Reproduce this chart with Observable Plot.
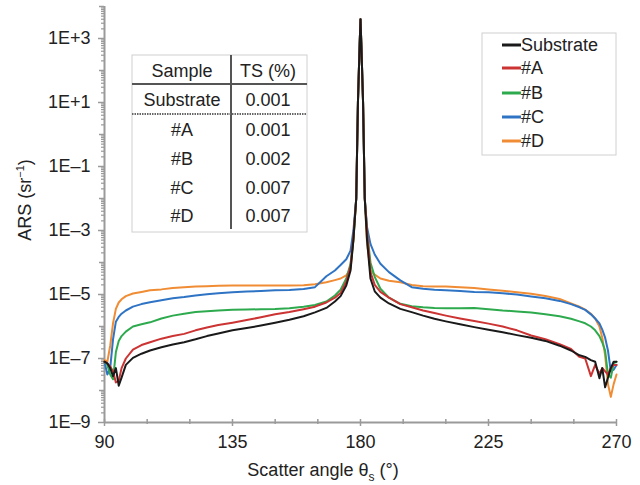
<!DOCTYPE html>
<html>
<head>
<meta charset="utf-8">
<script src="https://cdn.jsdelivr.net/npm/d3@7"></script>
<script src="https://cdn.jsdelivr.net/npm/@observablehq/plot@0.6"></script>
<style>
  html, body { margin: 0; padding: 0; background: #fff; }
  svg { display: block; }
</style>
</head>
<body>
<div id="chart"></div>
<script>
// Scatter angle grid (degrees)
const angles = [90, 91, 92, 93, 94, 95, 96, 97.5, 100, 103, 106, 110, 114, 118, 122, 126, 130, 135, 140, 145, 150, 155, 160, 164, 168, 171, 173, 175, 176.5, 177.5, 178.5, 179.1, 179.7, 180, 180.3, 180.9, 181.5, 182.3, 183.5, 185, 187, 190, 194, 198, 202, 206, 210, 215, 220, 225, 230, 235, 240, 245, 250, 254, 257, 259, 261, 262.5, 264, 265, 266, 267, 268, 269, 270];

// log10 of ARS (sr^-1), one per angle
const logSubstrate = [-7.1, -7.15, -7.3, -7.55, -7.3, -7.85, -7.6, -7.2, -6.98, -6.85, -6.75, -6.65, -6.56, -6.49, -6.4, -6.3, -6.22, -6.12, -6.05, -5.97, -5.88, -5.79, -5.68, -5.56, -5.42, -5.22, -5.05, -4.72, -4.25, -3.3, -2.0, 1.0, 2.8, 3.6, 2.8, 1.0, -2.0, -3.3, -4.5, -4.9, -5.1, -5.28, -5.45, -5.55, -5.66, -5.76, -5.84, -5.93, -6.02, -6.1, -6.18, -6.27, -6.35, -6.45, -6.6, -6.75, -6.9, -6.95, -7.05, -7.1, -7.62, -7.3, -7.9, -7.6, -7.3, -7.1, -7.1];
const logA = [-7.1, -7.15, -7.25, -7.4, -7.75, -7.7, -7.3, -7.0, -6.72, -6.58, -6.49, -6.38, -6.3, -6.23, -6.12, -6.03, -5.95, -5.88, -5.8, -5.71, -5.62, -5.55, -5.46, -5.38, -5.25, -5.1, -4.95, -4.6, -4.1, -3.2, -2.0, 1.0, 2.8, 3.6, 2.8, 1.0, -2.0, -3.0, -4.3, -4.7, -4.92, -5.1, -5.3, -5.4, -5.5, -5.58, -5.66, -5.75, -5.83, -5.91, -6.0, -6.12, -6.28, -6.4, -6.55, -6.7, -6.95, -7.0, -7.55, -7.2, -7.48, -7.3, -7.4, -7.5, -7.3, -7.2, -7.2];
const logB = [-7.1, -7.2, -7.5, -7.65, -6.8, -6.45, -6.3, -6.16, -6.0, -5.93, -5.87, -5.75, -5.66, -5.6, -5.55, -5.52, -5.5, -5.48, -5.47, -5.46, -5.45, -5.43, -5.38, -5.33, -5.22, -5.03, -4.85, -4.5, -4.04, -3.3, -2.0, 1.0, 2.8, 3.6, 2.8, 1.0, -2.0, -3.0, -4.0, -4.45, -4.82, -5.1, -5.29, -5.37, -5.4, -5.42, -5.43, -5.43, -5.42, -5.46, -5.5, -5.53, -5.56, -5.62, -5.68, -5.76, -5.84, -5.9, -6.0, -6.12, -6.3, -6.5, -6.75, -7.5, -7.6, -7.15, -7.1];
const logC = [-7.1, -7.5, -7.3, -6.4, -5.85, -5.7, -5.6, -5.5, -5.38, -5.3, -5.24, -5.18, -5.12, -5.08, -5.03, -4.99, -4.96, -4.93, -4.91, -4.89, -4.87, -4.86, -4.83, -4.77, -4.43, -4.25, -4.08, -3.9, -3.63, -3.0, -2.0, 1.0, 2.8, 3.6, 2.8, 1.0, -2.0, -2.9, -3.42, -3.75, -4.04, -4.3, -4.56, -4.77, -4.82, -4.85, -4.87, -4.89, -4.92, -4.93, -4.96, -5.0, -5.06, -5.12, -5.2, -5.3, -5.4, -5.48, -5.62, -5.75, -5.9, -6.1, -6.35, -6.75, -7.4, -7.35, -7.2];
const logD = [-7.05, -7.1, -6.6, -5.9, -5.45, -5.25, -5.15, -5.05, -4.97, -4.92, -4.87, -4.84, -4.8, -4.77, -4.75, -4.74, -4.73, -4.72, -4.72, -4.72, -4.72, -4.72, -4.71, -4.68, -4.62, -4.55, -4.5, -4.4, -4.2, -3.3, -2.0, 1.0, 2.8, 3.6, 2.8, 1.0, -2.0, -3.4, -4.25, -4.38, -4.5, -4.57, -4.62, -4.7, -4.74, -4.75, -4.75, -4.77, -4.8, -4.84, -4.88, -4.93, -4.98, -5.05, -5.14, -5.28, -5.38, -5.47, -5.6, -5.75, -6.0, -6.35, -6.9, -7.8, -8.2, -7.8, -7.5];

const seriesNames = ["Substrate", "#A", "#B", "#C", "#D"];
const seriesColors = ["#1a1a1a", "#cc3333", "#2eaa4e", "#2f74c4", "#f08c34"];
const seriesLogs = [logSubstrate, logA, logB, logC, logD];

// Inset table
const tableHeader = ["Sample", "TS (%)"];
const tableSamples = ["Substrate", "#A", "#B", "#C", "#D"];
const tableTS = ["0.001", "0.001", "0.002", "0.007", "0.007"];

// Axis ticks
const xMajorTicks = [90, 135, 180, 225, 270];
const xMinorTicks = [105, 120, 150, 165, 195, 210, 240, 255];
const yLabelExps = [3, 1, -1, -3, -5, -7, -9];
const yEvenExps = [4, 2, 0, -2, -4, -6, -8];

const yLabelTicks = yLabelExps.map(e => Math.pow(10, e));
const yEvenTicks = yEvenExps.map(e => Math.pow(10, e));
const yMinorTicks = [];
for (let e = -9; e < 4; e++) for (let m = 2; m <= 9; m++) yMinorTicks.push(m * Math.pow(10, e));

const expOf = v => Math.round(Math.log10(v));
const fmtY = v => { const e = expOf(v); return "1E" + (e >= 0 ? "+" : "\u2013") + Math.abs(e); };

const seriesData = seriesNames.map((name, k) =>
  angles.map((a, i) => ({ series: name, angle: a, ars: Math.pow(10, seriesLogs[k][i]) })));

const axisColor = "#9a9a9a";
const lineMarks = [];
for (let k = seriesNames.length - 1; k >= 0; k--) {
  lineMarks.push(Plot.line(seriesData[k], { x: "angle", y: "ars", stroke: seriesColors[k], strokeWidth: 2, strokeLinejoin: "round" }));
}

const chart = Plot.plot({
  width: 640,
  height: 485,
  marginLeft: 104,
  marginRight: 24,
  marginTop: 6,
  marginBottom: 63,
  style: { fontFamily: "'Liberation Sans', Arial, sans-serif", fontSize: "18px", background: "#fff", color: "#222" },
  x: { domain: [90, 270] },
  y: { type: "log", domain: [1e-9, 1e4] },
  marks: [
    Plot.axisY({ ticks: yMinorTicks, tickSize: 3, tickFormat: () => "", stroke: axisColor, strokeWidth: 1.2, label: null }),
    Plot.axisY({ ticks: yEvenTicks, tickSize: 5, tickFormat: () => "", stroke: axisColor, strokeWidth: 1.5, label: null }),
    Plot.axisY({ ticks: yLabelTicks, tickSize: 6, tickPadding: 8, tickFormat: fmtY, stroke: axisColor, strokeWidth: 1.5, fill: "#222", fontSize: 18, label: null }),
    Plot.axisX({ ticks: xMinorTicks, tickSize: 5, dy: -3, tickFormat: () => "", stroke: axisColor, strokeWidth: 1.5, label: null }),
    Plot.axisX({ ticks: xMajorTicks, tickSize: 7, dy: -3, tickPadding: 9, tickFormat: d => String(d), stroke: axisColor, strokeWidth: 1.5, fill: "#222", fontSize: 18, label: null }),
    Plot.ruleX([90], { stroke: axisColor, strokeWidth: 2 }),
    Plot.ruleY([1e-9], { stroke: axisColor, strokeWidth: 2 }),
    ...lineMarks
  ]
});

document.getElementById("chart").appendChild(chart);

const svg = d3.select(chart);
const font = "'Liberation Sans', Arial, sans-serif";

// Axis titles
const yt = svg.append("text")
  .attr("transform", "translate(31,200) rotate(-90)")
  .attr("text-anchor", "middle")
  .attr("font-family", font).attr("font-size", 18).attr("fill", "#222");
yt.append("tspan").text("ARS (sr");
yt.append("tspan").attr("font-size", 11).attr("dy", -7).text("\u22121");
yt.append("tspan").attr("dy", 7).text(")");

const xt = svg.append("text")
  .attr("x", 323).attr("y", 476)
  .attr("text-anchor", "middle")
  .attr("font-family", font).attr("font-size", 18).attr("fill", "#222");
xt.append("tspan").text("Scatter angle \u03b8");
xt.append("tspan").attr("font-size", 12).attr("dy", 5).text("s");
xt.append("tspan").attr("dy", -5).text(" (\u00b0)");

// Inset table
const tb = svg.append("g").attr("font-family", font).attr("font-size", 18).attr("fill", "#222");
tb.append("rect").attr("x", 132).attr("y", 55).attr("width", 175).attr("height", 177)
  .attr("fill", "#fff").attr("stroke", "#d0d0d0").attr("stroke-width", 1);
tb.append("line").attr("x1", 231).attr("x2", 231).attr("y1", 55).attr("y2", 229)
  .attr("stroke", "#555").attr("stroke-width", 2);
tb.append("line").attr("x1", 132).attr("x2", 307).attr("y1", 84).attr("y2", 84)
  .attr("stroke", "#555").attr("stroke-width", 2);
tb.append("line").attr("x1", 132).attr("x2", 307).attr("y1", 114).attr("y2", 114)
  .attr("stroke", "#666").attr("stroke-width", 2).attr("stroke-dasharray", "1.5,1");
const colX = [182, 268];
tableHeader.forEach((h, j) => tb.append("text").attr("x", colX[j]).attr("y", 71).attr("dy", "0.35em")
  .attr("text-anchor", "middle").text(h));
const rowY = [100, 130, 159, 188, 216];
tableSamples.forEach((s, i) => {
  tb.append("text").attr("x", colX[0]).attr("y", rowY[i]).attr("dy", "0.35em").attr("text-anchor", "middle").text(s);
  tb.append("text").attr("x", colX[1]).attr("y", rowY[i]).attr("dy", "0.35em").attr("text-anchor", "middle").text(tableTS[i]);
});

// Legend
const lg = svg.append("g").attr("font-family", font).attr("font-size", 18).attr("fill", "#222");
lg.append("rect").attr("x", 482).attr("y", 33).attr("width", 134).attr("height", 122)
  .attr("fill", "#fff").attr("stroke", "#d0d0d0").attr("stroke-width", 1);
const legY = [45, 68, 93, 117, 141];
seriesNames.forEach((n, i) => {
  lg.append("line").attr("x1", 502).attr("x2", 521).attr("y1", legY[i]).attr("y2", legY[i])
    .attr("stroke", seriesColors[i]).attr("stroke-width", 3);
  lg.append("text").attr("x", 521).attr("y", legY[i]).attr("dy", "0.35em").attr("text-anchor", "start").text(n);
});
</script>
</body>
</html>
